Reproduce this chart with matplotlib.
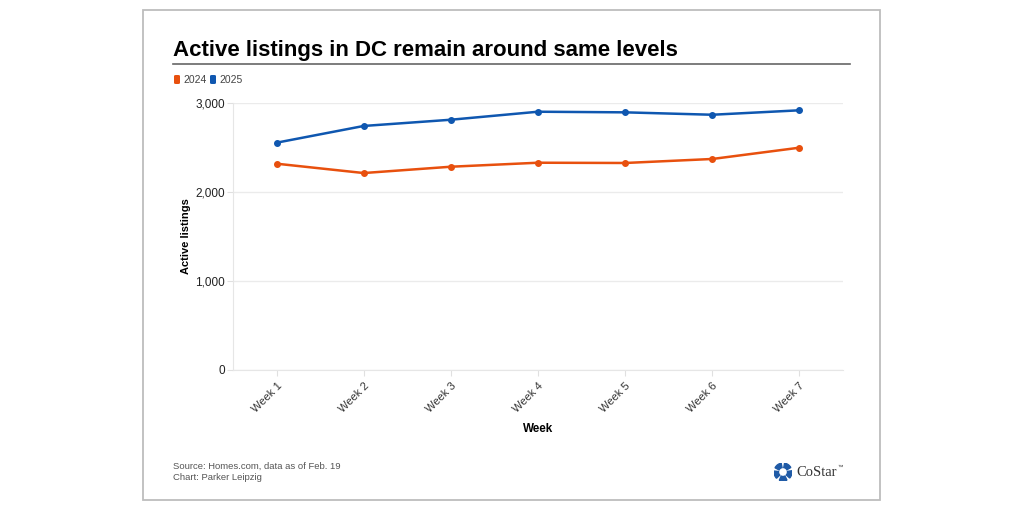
import numpy as np
import matplotlib.pyplot as plt
from matplotlib.patches import Rectangle, FancyBboxPatch, Wedge

weeks = ['Week 1', 'Week 2', 'Week 3', 'Week 4', 'Week 5', 'Week 6', 'Week 7']
listings_2024 = [2318, 2213, 2284, 2329, 2326, 2371, 2498]
listings_2025 = [2554, 2742, 2812, 2902, 2895, 2868, 2918]
y_ticks = [0, 1000, 2000, 3000]

orange = '#e8500e'
blue = '#0f57b0'

plt.rcParams['font.family'] = ['Liberation Sans', 'DejaVu Sans']

W, H = 1024, 512
fig = plt.figure(figsize=(W / 100, H / 100), dpi=100)

def px(x, y):
    return x / W, 1 - y / H

# outer frame
fig.patches.append(Rectangle(px(143, 500), 737 / W, 490 / H, transform=fig.transFigure,
                             fill=False, edgecolor='#bdbdbd', linewidth=1.3))

ax = fig.add_axes([233 / W, 1 - 370 / H, 610 / W, 267 / H])
x = np.arange(len(weeks))
ax.plot(x, listings_2024, color=orange, lw=1.8, marker='o', ms=4, zorder=3)
ax.plot(x, listings_2025, color=blue, lw=1.8, marker='o', ms=4, zorder=3)
ax.set_xlim(-0.5, len(weeks) - 0.5)
ax.set_ylim(0, 3000)
ax.set_yticks(y_ticks)
ax.set_yticklabels([f'{v:,}' for v in y_ticks], fontsize=8.5, color='#222')
ax.set_xticks(x)
ax.set_xticklabels(weeks, rotation=45, ha='right', rotation_mode='anchor', fontsize=8, color='#333')
ax.grid(axis='y', color='#ebebeb', lw=1)
ax.set_axisbelow(True)
for s in ['top', 'right']:
    ax.spines[s].set_visible(False)
ax.spines['left'].set_color('#e6e6e6')
ax.spines['bottom'].set_color('#e6e6e6')
ax.tick_params(axis='both', length=4, color='#e0e0e0', pad=2)
ax.tick_params(axis='x', pad=4)
ax.set_ylabel('Active listings', fontsize=8, fontweight='bold', labelpad=3)
ax.set_xlabel('Week', fontsize=8.4, fontweight='bold', labelpad=6)

# title and rule
fig.text(*px(173, 56), 'Active listings in DC remain around same levels', fontsize=16,
         fontweight='bold', va='baseline', ha='left')
fig.add_artist(plt.Line2D([173 / W, 850 / W], [1 - 64 / H] * 2, color='#666', lw=1.2))

# legend
for lx, col, lab in [(174, orange, '2024'), (210, blue, '2025')]:
    fig.patches.append(FancyBboxPatch(px(lx, 84), 6 / W, 9 / H, boxstyle='round,pad=0,rounding_size=0.002',
                                      transform=fig.transFigure, facecolor=col, edgecolor='none'))
    fig.text(*px(lx + 9, 80), lab, fontsize=7.5, color='#444', va='center', ha='left')

# footer
fig.text(*px(173, 466), 'Source: Homes.com, data as of Feb. 19', fontsize=6.8, color='#555', va='center')
fig.text(*px(173, 477), 'Chart: Parker Leipzig', fontsize=6.8, color='#555', va='center')

# logo
lax = fig.add_axes([774 / W, 1 - 481 / H, 18 / W, 18 / H])
lax.set_xlim(-1, 1)
lax.set_ylim(-1, 1)
lax.set_aspect('equal')
lax.axis('off')
for k in range(5):
    a0 = 90 + k * 72 + 12
    lax.add_patch(Wedge((0, 0), 1.0, a0, a0 + 50, width=0.5, color='#1f5aa6'))
fig.text(*px(796, 472), 'CoStar', fontsize=10.5, family='Liberation Serif', color='#333', va='center')
fig.text(*px(837, 467), '™', fontsize=4, color='#333', va='center')

fig.savefig('out.png', dpi=100)
